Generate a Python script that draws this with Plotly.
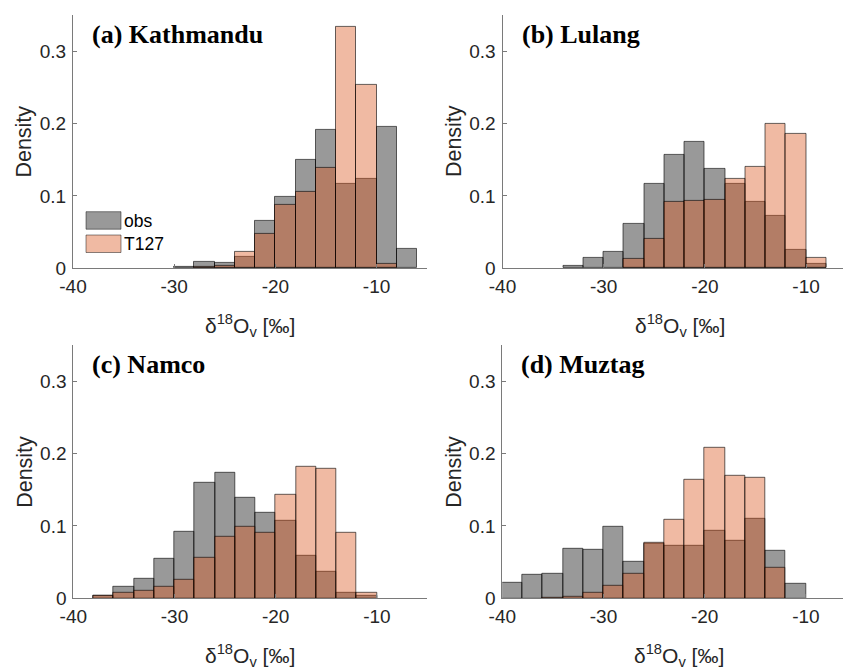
import plotly.graph_objects as go

# Bin centres (bin width 2 permil)
bin_centers = [-39, -37, -35, -33, -31, -29, -27, -25, -23, -21, -19, -17, -15, -13, -11, -9, -7]

# (a) Kathmandu
kat_obs  = [None, None, None, None, None, 0.002, 0.009, 0.007, 0.016, 0.065, 0.098, 0.150, 0.191, 0.116, 0.124, 0.196, 0.027]
kat_t127 = [None, None, None, None, None, None, 0.002, 0.004, 0.022, 0.048, 0.087, 0.106, 0.138, 0.333, 0.254, 0.0055, None]
# (b) Lulang
lul_obs  = [None, None, None, 0.004, 0.014, 0.023, 0.062, 0.116, 0.157, 0.174, 0.137, 0.117, 0.092, 0.072, 0.025, 0.006, None]
lul_t127 = [None, None, None, None, None, None, 0.013, 0.041, 0.092, 0.093, 0.095, 0.124, 0.140, 0.199, 0.186, 0.014, None]
# (c) Namco
nam_obs  = [None, 0.004, 0.016, 0.027, 0.054, 0.092, 0.159, 0.173, 0.139, 0.118, 0.107, 0.059, 0.037, 0.007, 0.003, None, None]
nam_t127 = [None, 0.003, 0.007, 0.011, 0.016, 0.025, 0.056, 0.085, 0.099, 0.090, 0.143, 0.181, 0.179, 0.091, 0.008, None, None]
# (d) Muztag
muz_obs  = [0.022, 0.032, 0.034, 0.068, 0.067, 0.099, 0.050, 0.075, 0.073, 0.073, 0.093, 0.080, 0.110, 0.066, 0.020, None, None]
muz_t127 = [None, None, 0.001, 0.002, 0.007, 0.017, 0.034, 0.076, 0.108, 0.164, 0.208, 0.169, 0.166, 0.042, None, None, None]

panel_titles = ["(a) Kathmandu", "(b) Lulang", "(c) Namco", "(d) Muztag"]
series_names = ["obs", "T127"]
y_ticks = [0, 0.1, 0.2, 0.3]
y_tick_text = ["0", "0.1", "0.2", "0.3"]
x_ticks = [-40, -30, -20, -10]
x_tick_text = ["-40", "-30", "-20", "-10"]

panels = [(kat_obs, kat_t127), (lul_obs, lul_t127), (nam_obs, nam_t127), (muz_obs, muz_t127)]

W, H = 843, 669
OBS_COL = "rgba(0,0,0,0.4)"
T_COL = "rgba(217,83,25,0.4)"
EDGE = "rgba(0,0,0,0.6)"
SANS = "Arial, Liberation Sans, sans-serif"
SERIF = "Times New Roman, Liberation Serif, serif"
AXC = "#7a7a7a"
TXT = "#262626"

fig = go.Figure()

# panel geometry in pixels: (x_left, x_right, y_zero, y_top)
geo = [
    (73.0, 426.7, 268.3, 14.9),
    (502.5, 843.0, 268.3, 14.9),
    (73.3, 427.0, 598.3, 344.8),
    (502.3, 843.0, 598.3, 344.8),
]
PX_PER_UNIT = 10.12

for i, (obs, t127) in enumerate(panels):
    ax = "" if i == 0 else str(i + 1)
    fig.add_trace(go.Bar(x=bin_centers, y=obs, width=2, name=series_names[0],
                         marker=dict(color=OBS_COL, line=dict(color=EDGE, width=1)),
                         xaxis="x" + ax, yaxis="y" + ax, showlegend=False))
    fig.add_trace(go.Bar(x=bin_centers, y=t127, width=2, name=series_names[1],
                         marker=dict(color=T_COL, line=dict(color=EDGE, width=1)),
                         xaxis="x" + ax, yaxis="y" + ax, showlegend=False))
    xl, xr, y0, yt = geo[i]
    xmax = -40 + (xr - xl) / PX_PER_UNIT
    common = dict(showline=True, linecolor=AXC, linewidth=1, ticks="inside", ticklen=4,
                  tickcolor=AXC, showgrid=False, zeroline=False, automargin=False,
                  tickfont=dict(family=SANS, size=19, color=TXT))
    fig.layout["xaxis" + ax] = dict(domain=[xl / W, xr / W], range=[-40, xmax],
                                    anchor="y" + ax, tickvals=x_ticks, ticktext=x_tick_text,
                                    ticklabelstandoff=1, **common)
    fig.layout["yaxis" + ax] = dict(domain=[1 - y0 / H, 1 - yt / H], range=[0, 0.35],
                                    anchor="x" + ax, tickvals=y_ticks, ticktext=y_tick_text,
                                    ticklabelstandoff=2, **common)
    # y-axis title
    fig.add_annotation(text="Density", xref="paper", yref="paper", textangle=-90,
                       x=(xl - 49) / W, y=1 - (y0 + yt) / 2 / H, xanchor="center", yanchor="middle",
                       showarrow=False, font=dict(family=SANS, size=21.5, color=TXT))
    # panel title
    fig.add_annotation(text="<b>" + panel_titles[i] + "</b>", xref="paper", yref="paper",
                       x=(xl + 17) / W, y=1 - (yt + 20) / H, xanchor="left", yanchor="middle",
                       showarrow=False, font=dict(family=SERIF, size=26, color="black"))
    # x-axis title centred on the full [-40,-5] axis
    fig.add_annotation(text="δ<sup>18</sup>O<sub>v</sub> [‰]", xref="x" + ax, yref="paper",
                       x=-22.5, y=1 - (y0 + 57) / H, xanchor="center", yanchor="middle",
                       showarrow=False, font=dict(family=SANS, size=21, color=TXT))

# legend in panel (a)
leg = [(series_names[0], "rgb(153,153,153)", 211.7), (series_names[1], "rgb(240,186,163)", 235.0)]
for name, col, ytop in leg:
    fig.add_shape(type="rect", xref="paper", yref="paper",
                  x0=86 / W, x1=121 / W, y0=1 - (ytop + 17.5) / H, y1=1 - ytop / H,
                  fillcolor=col, line=dict(color="rgba(0,0,0,0.45)", width=1))
    fig.add_annotation(text=name, xref="paper", yref="paper", x=121.5 / W, y=1 - (ytop + 9) / H,
                       xanchor="left", yanchor="middle", showarrow=False,
                       font=dict(family=SANS, size=17.5, color="black"))

fig.update_layout(width=W, height=H, barmode="overlay", bargap=0,
                  margin=dict(l=0, r=0, t=0, b=0), template="none",
                  plot_bgcolor="white", paper_bgcolor="white", showlegend=False)

fig.write_html("out.html", config={"displayModeBar": False},
               post_script="document.body.style.margin='0';document.body.style.overflow='hidden';")
